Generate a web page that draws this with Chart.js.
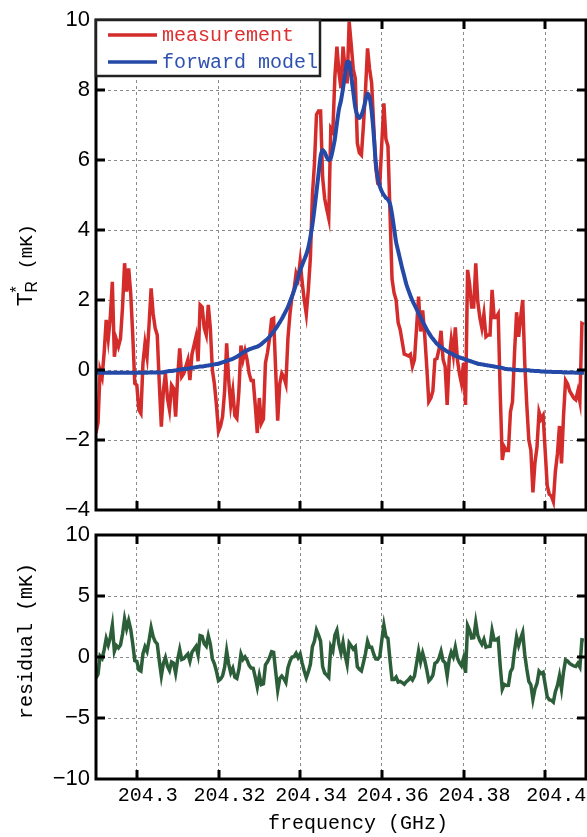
<!DOCTYPE html>
<html>
<head>
<meta charset="utf-8">
<script src="https://cdn.jsdelivr.net/npm/chart.js@4.4.1/dist/chart.umd.min.js"></script>
<style>
  html, body { margin: 0; padding: 0; background: #fff; }
  #wrap { position: relative; width: 587px; height: 837px; }
  #wrap canvas { position: absolute; left: 0; top: 0; }
</style>
</head>
<body>
<div id="wrap">
  <canvas id="specChart" width="587" height="837"></canvas>
  <canvas id="residChart" width="587" height="837"></canvas>
</div>
<script>
// Channel grid (GHz)
const f0 = 204.29;
const df = 0.0005;

// Measured spectrum T_R* (mK), one value per channel
const measurement = [
  -1.8, -1.5, 0.0, -0.2, 0.5, 1.43, 0.9, 1.5, 2.52, 0.38,
  0.86, 0.67, 0.9, 1.8, 3.05, 2.24, 2.9, 2.19, 1.0, -0.38,
  -0.43, -1.14, -1.24, 0.19, 0.76, 0.38, 1.3, 2.33, 1.6, 1.19,
  1.0, -0.38, -1.62, -0.6, -0.1, -0.8, -1.14, -0.43, -0.52, -1.33,
  -0.2, 0.62, -0.19, -0.1, 0.1, 0.29, -0.29, 0.45, 0.7, 0.95,
  0.25, 1.86, 1.8, 1.2, 1.0, 1.86, 1.2, 0.0, -0.4, -1.0,
  -1.75, -1.6, -1.33, -0.6, 0.76, -0.3, -1.0, -0.6, -1.3, -1.38,
  -0.6, 0.7, 0.3, 0.55, 0.3, -0.1, -0.3, -0.3, -1.0, -1.8,
  -0.8, -1.52, -1.4, 0.2, 0.5, 0.9, 1.45, 1.48, 0.0, -1.45,
  -0.4, -0.1, -0.2, -0.4, 0.9, 1.6, 2.1, 2.3, 2.76, 2.6,
  3.1, 2.5, 2.0, 1.6, 2.3, 3.2, 5.0, 5.9, 7.3, 7.4,
  7.4, 5.5, 4.9, 4.6, 4.33, 6.9, 6.8, 8.38, 9.24, 8.5,
  8.05, 9.24, 8.6, 8.19, 9.95, 9.3, 8.6, 8.33, 6.48, 6.2,
  6.14, 7.0, 8.0, 9.19, 8.6, 8.2, 7.0, 5.8, 5.33, 5.29,
  6.5, 7.62, 6.6, 6.4, 4.5, 2.6, 2.2, 2.0, 1.35, 1.15,
  0.8, 0.45, 0.43, 0.4, 0.45, 0.1, 0.3, 1.2, 2.1, 1.1,
  1.7, 1.0, 0.1, -0.9, -0.8, -0.6, 0.3, 0.33, 0.6, 1.12,
  0.3, 0.1, -1.0, 0.3, 0.86, 0.45, 1.22, 0.3, -0.1, -0.38,
  0.2, -1.0, 2.86, 2.45, 1.8, 1.8, 3.05, 1.95, 1.5, 1.2,
  1.6, 0.95, 1.0, 1.0, 2.29, 1.5, 1.5, 1.6, -0.7, -2.57,
  -2.2, -2.3, -2.3, -1.2, -0.9, 0.5, 1.65, 0.95, 1.5, 2.0,
  0.2, -1.0, -2.0, -2.3, -3.5, -2.65, -2.2, -1.2, -1.4, -1.3,
  -2.3, -3.3, -3.55, -3.6, -3.76, -2.9, -2.4, -1.6, -2.67, -1.3,
  -0.3, -0.4, -0.6, -0.7, -0.8, -0.85, -0.6, -0.9, 1.33, 1.3
];

// Forward model on the same channels (mK)
const forwardModel = [
  -0.08, -0.08, -0.08, -0.08, -0.08, -0.08, -0.08, -0.08, -0.08, -0.08,
  -0.08, -0.08, -0.08, -0.08, -0.08, -0.08, -0.08, -0.08, -0.08, -0.08,
  -0.08, -0.08, -0.08, -0.08, -0.08, -0.08, -0.07, -0.07, -0.07, -0.07,
  -0.07, -0.07, -0.07, -0.07, -0.05, -0.04, -0.03, -0.03, -0.02, -0.01,
  0.0, 0.01, 0.02, 0.03, 0.03, 0.04, 0.05, 0.06, 0.07, 0.08,
  0.09, 0.1, 0.1, 0.11, 0.12, 0.13, 0.14, 0.15, 0.16, 0.17,
  0.18, 0.2, 0.22, 0.24, 0.26, 0.28, 0.3, 0.32, 0.35, 0.38,
  0.42, 0.46, 0.5, 0.53, 0.56, 0.59, 0.61, 0.63, 0.65, 0.67,
  0.7, 0.74, 0.79, 0.84, 0.89, 0.95, 1.02, 1.1, 1.18, 1.27,
  1.36, 1.46, 1.57, 1.68, 1.8, 1.95, 2.1, 2.27, 2.45, 2.65,
  2.85, 3.0, 3.15, 3.3, 3.5, 3.8, 4.15, 4.6, 5.1, 5.6,
  6.1, 6.28, 6.22, 6.08, 6.0, 6.05, 6.3, 6.6, 7.05, 7.45,
  7.7, 8.05, 8.45, 8.8, 8.8, 8.4, 7.95, 7.5, 7.28, 7.2,
  7.28, 7.45, 7.7, 7.9, 7.8, 7.4, 6.75, 5.95, 5.5, 5.25,
  5.1, 5.0, 4.92, 4.87, 4.75, 4.45, 4.05, 3.65, 3.4, 3.15,
  2.9, 2.68, 2.45, 2.28, 2.12, 1.98, 1.86, 1.74, 1.62, 1.5,
  1.38, 1.27, 1.16, 1.06, 0.97, 0.89, 0.82, 0.75, 0.7, 0.65,
  0.61, 0.57, 0.53, 0.5, 0.47, 0.44, 0.41, 0.38, 0.36, 0.34,
  0.32, 0.3, 0.28, 0.26, 0.24, 0.22, 0.2, 0.18, 0.17, 0.16,
  0.15, 0.14, 0.13, 0.12, 0.11, 0.1, 0.09, 0.08, 0.07, 0.06,
  0.04, 0.03, 0.02, 0.02, 0.01, 0.01, 0.0, 0.0, -0.01, -0.01,
  -0.01, -0.01, -0.01, -0.02, -0.02, -0.03, -0.03, -0.03, -0.04, -0.04,
  -0.05, -0.05, -0.05, -0.05, -0.06, -0.06, -0.06, -0.06, -0.06, -0.07,
  -0.07, -0.07, -0.07, -0.07, -0.07, -0.08, -0.08, -0.08, -0.08, -0.08
];

// Axis ticks
const xTicks = [204.3, 204.32, 204.34, 204.36, 204.38, 204.4];
const xTickLabels = ['204.3', '204.32', '204.34', '204.36', '204.38', '204.4'];
const yTicksTop = [-4, -2, 0, 2, 4, 6, 8, 10];
const yTicksBottom = [-10, -5, 0, 5, 10];

const freq = measurement.map((_, i) => f0 + i * df);
// residual = measurement minus forward model
const residual = measurement.map((v, i) => +(v - forwardModel[i]).toFixed(3));

const toXY = arr => arr.map((v, i) => ({ x: freq[i], y: v }));

const RED = '#d42b2b';
const BLUE = '#2549a6';
const GREEN = '#2c5f39';
const GRID = '#8a8a8a';
const MONO = '"Liberation Mono", "DejaVu Sans Mono", monospace';
const SANS = '"Liberation Sans", Arial, sans-serif';

const minusSign = v => String(v).replace('-', '\u2212');

// box with inward tick marks on all four sides
const framePlugin = {
  id: 'frame',
  afterDraw(chart) {
    const { ctx, chartArea: a, scales } = chart;
    const len = 9;
    ctx.save();
    ctx.strokeStyle = '#000';
    ctx.lineWidth = 3;
    ctx.beginPath();
    scales.x.ticks.forEach(t => {
      const px = Math.round(scales.x.getPixelForValue(t.value));
      ctx.moveTo(px, a.top); ctx.lineTo(px, a.top + len);
      ctx.moveTo(px, a.bottom); ctx.lineTo(px, a.bottom - len);
    });
    scales.y.ticks.forEach(t => {
      const py = Math.round(scales.y.getPixelForValue(t.value));
      if (py <= a.top + 1 || py >= a.bottom - 1) return;
      ctx.moveTo(a.left, py); ctx.lineTo(a.left + len, py);
      ctx.moveTo(a.right, py); ctx.lineTo(a.right - len, py);
    });
    ctx.stroke();
    ctx.strokeRect(a.left, a.top, a.right - a.left, a.bottom - a.top);
    ctx.restore();
  }
};

// legend box in the upper left corner of the spectrum panel
const legendPlugin = {
  id: 'boxLegend',
  afterDraw(chart) {
    const { ctx, chartArea: a } = chart;
    const x0 = a.left, y0 = a.top, w = 224, h = 56;
    ctx.save();
    ctx.fillStyle = '#fff';
    ctx.fillRect(x0, y0, w, h);
    ctx.strokeStyle = '#222';
    ctx.lineWidth = 2.5;
    ctx.strokeRect(x0, y0, w, h);
    const rows = [
      { text: 'measurement', line: RED, color: '#dd3030', y: y0 + 15 },
      { text: 'forward model', line: BLUE, color: '#2f52b0', y: y0 + 42 }
    ];
    ctx.font = '20px ' + MONO;
    ctx.textBaseline = 'middle';
    rows.forEach(r => {
      ctx.strokeStyle = r.line;
      ctx.lineWidth = 3.5;
      ctx.beginPath();
      ctx.moveTo(x0 + 12, r.y);
      ctx.lineTo(x0 + 61, r.y);
      ctx.stroke();
      ctx.fillStyle = r.color;
      ctx.fillText(r.text, x0 + 66, r.y + 1);
    });
    ctx.restore();
  }
};

// T_R* (mK) axis title
const specTitlePlugin = {
  id: 'specTitles',
  afterDraw(chart) {
    const ctx = chart.ctx;
    ctx.save();
    ctx.translate(26, 265);
    ctx.rotate(-Math.PI / 2);
    ctx.fillStyle = '#000';
    ctx.textBaseline = 'middle';
    ctx.textAlign = 'left';
    const fT = '22px ' + SANS, fS = '16px ' + SANS, fU = '19px ' + MONO;
    ctx.font = fT; const wT = ctx.measureText('T').width;
    ctx.font = fS; const wS = Math.max(ctx.measureText('*').width, ctx.measureText('R').width);
    ctx.font = fU; const wU = ctx.measureText(' (mK)').width;
    let x = -(wT + wS + wU) / 2;
    ctx.font = fT; ctx.fillText('T', x, 0); x += wT;
    ctx.font = fS; ctx.fillText('*', x, -8); ctx.fillText('R', x, 7); x += wS;
    ctx.font = fU; ctx.fillText(' (mK)', x, 1);
    ctx.restore();
  }
};

const residTitlePlugin = {
  id: 'residTitles',
  afterDraw(chart) {
    const ctx = chart.ctx;
    ctx.save();
    ctx.fillStyle = '#000';
    ctx.font = '20px ' + MONO;
    ctx.textAlign = 'center';
    ctx.textBaseline = 'middle';
    ctx.fillText('frequency (GHz)', 358, 824);
    ctx.translate(27, 641);
    ctx.rotate(-Math.PI / 2);
    ctx.fillText('residual (mK)', 0, 0);
    ctx.restore();
  }
};

function xScale(showLabels, height) {
  return {
    type: 'linear',
    min: 204.29,
    max: 204.41,
    afterBuildTicks: s => { s.ticks = xTicks.map(v => ({ value: v })); },
    afterFit: s => { s.height = height; },
    ticks: {
      display: showLabels,
      autoSkip: false,
      maxRotation: 0,
      padding: 5,
      labelOffset: 11,
      color: '#000',
      font: { family: MONO, size: 20 },
      callback: (v, i) => xTickLabels[i]
    },
    grid: { color: GRID, lineWidth: 1, drawTicks: false },
    border: { display: false, dash: [3, 3] }
  };
}

function yScale(ticks) {
  return {
    type: 'linear',
    min: ticks[0],
    max: ticks[ticks.length - 1],
    afterBuildTicks: s => { s.ticks = ticks.map(v => ({ value: v })); },
    afterFit: s => { s.width = 96; },
    ticks: {
      padding: 6,
      color: '#000',
      font: { family: SANS, size: 22 },
      callback: v => minusSign(v)
    },
    grid: { color: GRID, lineWidth: 1, drawTicks: false },
    border: { display: false, dash: [3, 3] }
  };
}

const specChart = new Chart(document.getElementById('specChart'), {
  type: 'line',
  data: {
    datasets: [
      {
        label: 'forward model',
        data: toXY(forwardModel),
        borderColor: BLUE,
        borderWidth: 4,
        pointRadius: 0,
        tension: 0.2,
        order: 0
      },
      {
        label: 'measurement',
        data: toXY(measurement),
        borderColor: RED,
        borderWidth: 3.5,
        pointRadius: 0,
        tension: 0,
        order: 1
      }
    ]
  },
  options: {
    responsive: false,
    animation: false,
    events: [],
    layout: { padding: { top: 20, right: 1, bottom: 327, left: 0 } },
    plugins: { legend: { display: false }, tooltip: { enabled: false } },
    scales: {
      x: xScale(false, 0),
      y: yScale(yTicksTop)
    }
  },
  plugins: [framePlugin, legendPlugin, specTitlePlugin]
});

const residChart = new Chart(document.getElementById('residChart'), {
  type: 'line',
  data: {
    datasets: [{
      label: 'residual',
      data: toXY(residual),
      borderColor: GREEN,
      borderWidth: 3.5,
      pointRadius: 0,
      tension: 0
    }]
  },
  options: {
    responsive: false,
    animation: false,
    events: [],
    layout: { padding: { top: 535, right: 1, bottom: 0, left: 0 } },
    plugins: { legend: { display: false }, tooltip: { enabled: false } },
    scales: {
      x: xScale(true, 58),
      y: yScale(yTicksBottom)
    }
  },
  plugins: [framePlugin, residTitlePlugin]
});
</script>
</body>
</html>
